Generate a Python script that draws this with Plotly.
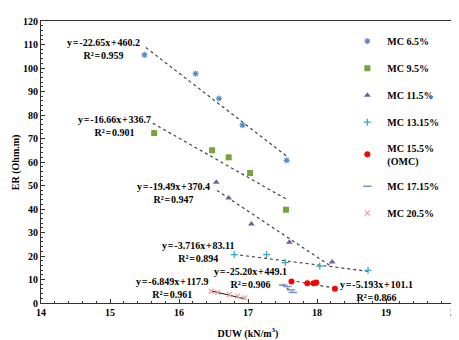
import plotly.graph_objects as go

# ---- data ----
series_names = ["MC 6.5%", "MC 9.5%", "MC 11.5%", "MC 13.15%", "MC 15.5%<br>(OMC)", "MC 17.15%", "MC 20.5%"]

duw_65 = [15.50, 16.24, 16.58, 16.92, 17.56]
er_65 = [105.6, 97.6, 87.0, 75.7, 60.7]

duw_95 = [15.64, 16.48, 16.72, 17.03, 17.55]
er_95 = [72.3, 65.0, 62.0, 55.3, 39.7]

duw_115 = [16.54, 16.72, 17.05, 17.60, 18.22]
er_115 = [51.4, 44.7, 33.6, 25.9, 17.4]

duw_1315 = [16.80, 17.27, 17.54, 18.04, 18.74]
er_1315 = [20.6, 20.6, 17.2, 15.7, 13.9]

duw_155 = [17.63, 17.86, 17.95, 17.99, 18.26]
er_155 = [9.1, 8.4, 8.4, 8.7, 6.1]

duw_1715 = [17.51, 17.57, 17.62, 17.65]
er_1715 = [7.6, 7.0, 5.6, 4.5]

duw_205 = [16.47, 16.56, 16.73, 16.85, 16.95]
er_205 = [5.0, 4.5, 3.6, 2.9, 2.2]

# trendline end points
trend_x0 = [15.52, 15.62, 16.55, 16.80, 17.62, 17.50, 16.47]
trend_y0 = [108.7, 76.5, 47.9, 20.7, 9.6, 8.1, 5.1]
trend_x1 = [17.56, 17.55, 18.22, 18.74, 18.26, 17.65, 16.95]
trend_y1 = [62.5, 44.3, 15.3, 13.5, 6.3, 4.3, 1.8]

S = "\u200a"  # hair space, the reference's equation text is tightly set
eq_texts = [
    f"y{S}={S}-22.65x{S}+{S}460.2<br>R²{S}={S}0.959",
    f"y{S}={S}-16.66x{S}+{S}336.7<br>R²{S}={S}0.901",
    f"y{S}={S}-19.49x{S}+{S}370.4<br>R²{S}={S}0.947",
    f"y{S}={S}-3.716x{S}+{S}83.11<br>R²{S}={S}0.894",
    f"y{S}={S}-5.193x{S}+{S}101.1<br>R²{S}={S}0.866",
    f"y{S}={S}-25.20x{S}+{S}449.1<br>R²{S}={S}0.906",
    f"y{S}={S}-6.849x{S}+{S}117.9<br>R²{S}={S}0.961",
]
eq_x = [14.90, 15.07, 15.92, 16.28, 18.86, 17.04, 15.91]
eq_y = [107.9, 75.4, 46.9, 21.7, 5.0, 10.6, 6.5]

x_ticks = [14, 15, 16, 17, 18, 19, 20]
y_ticks = [0, 10, 20, 30, 40, 50, 60, 70, 80, 90, 100, 110, 120]

# ---- styling ----
colors = ["#5B8BC8", "#77A33A", "#7A5C9E", "#2FA8C0", "#FF0000", "#7396CC", "#F29A9A"]
symbols = ["asterisk-open", "square", "triangle-up", "cross-thin-open", "circle", "line-ew-open", "x-thin-open"]
sizes = [5, 6, 6, 5, 6, 6, 5]
lw = [1.2, 0, 0, 1.2, 0, 1.5, 1.2]

xs = [duw_65, duw_95, duw_115, duw_1315, duw_155, duw_1715, duw_205]
ys = [er_65, er_95, er_115, er_1315, er_155, er_1715, er_205]

FONT = "Liberation Serif, Times New Roman, serif"
BF = dict(family=FONT, size=10, color="black", weight=700)

fig = go.Figure()

for i in range(7):
    dash = "solid" if i == 6 else "dot"
    col = "#222222" if i == 6 else "#444444"
    fig.add_trace(go.Scatter(
        x=[trend_x0[i], trend_x1[i]], y=[trend_y0[i], trend_y1[i]],
        mode="lines", line=dict(color=col, width=1.2, dash=dash),
        showlegend=False, hoverinfo="skip"))

for i in range(7):
    fig.add_trace(go.Scatter(
        x=xs[i], y=ys[i], mode="markers", name=series_names[i],
        legendgroup=str(i),
        marker=dict(symbol=symbols[i], size=sizes[i], color=colors[i],
                    line=dict(color=colors[i], width=lw[i]))))

for k in range(7):
    fig.add_annotation(x=eq_x[k], y=eq_y[k], text=eq_texts[k], showarrow=False,
                       xref="x", yref="y", font=BF, align="center")

# y-axis title
fig.add_annotation(x=-0.06, y=0.5, xref="paper", yref="paper", text="ER (Ohm.m)",
                   textangle=-90, showarrow=False, font=BF, xanchor="center", yanchor="middle")

fig.update_layout(
    width=459, height=340,
    margin=dict(l=33, r=7, t=7, b=45),
    paper_bgcolor="white", plot_bgcolor="white",
    font=BF,
    legend=dict(x=0.74, y=0.98, xanchor="left", yanchor="top",
                bgcolor="rgba(0,0,0,0)", tracegroupgap=8,
                font=BF, itemwidth=30),
    xaxis=dict(range=[14, 20], tickvals=x_ticks, showgrid=False, zeroline=False,
               showline=True, linecolor="#333333", linewidth=1, mirror=True,
               ticks="inside", ticklen=4, tickcolor="#333333", tickfont=BF,
               minor=dict(dtick=0.2, ticks="inside", ticklen=2, tickcolor="#333333"),
               title=dict(text="DUW (kN/m<sup>3</sup>)", standoff=12, font=BF)),
    yaxis=dict(range=[0, 120], tickvals=y_ticks, showgrid=False, zeroline=False,
               showline=True, linecolor="#333333", linewidth=1, mirror=True,
               ticks="inside", ticklen=4, tickcolor="#333333", tickfont=BF,
               minor=dict(dtick=2, ticks="inside", ticklen=2, tickcolor="#333333")),
)

fig.write_html("out.html")
